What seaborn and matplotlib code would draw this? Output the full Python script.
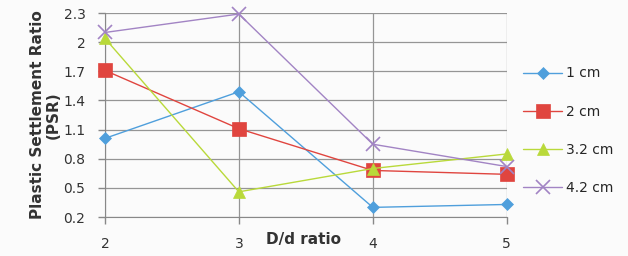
import matplotlib
matplotlib.use("Agg")
import matplotlib.pyplot as plt
import seaborn as sns
import pandas as pd

ratios = [2, 3, 4, 5]
psr_1cm = [1.01, 1.49, 0.30, 0.33]
psr_2cm = [1.71, 1.11, 0.68, 0.64]
psr_32cm = [2.04, 0.46, 0.70, 0.85]
psr_42cm = [2.10, 2.29, 0.95, 0.72]
series_names = ["1 cm", "2 cm", "3.2 cm", "4.2 cm"]
yticks = [0.2, 0.5, 0.8, 1.1, 1.4, 1.7, 2.0, 2.3]
ytick_labels = ["0.2", "0.5", "0.8", "1.1", "1.4", "1.7", "2", "2.3"]

rows = []
for name, vals in zip(series_names, [psr_1cm, psr_2cm, psr_32cm, psr_42cm]):
    for r, v in zip(ratios, vals):
        rows.append({"ratio": r, "psr": v, "size": name})
df = pd.DataFrame(rows)

sns.set_style("white")
plt.rcParams["font.family"] = ["DejaVu Sans"]

pal = {"1 cm": "#4f9fdc", "2 cm": "#e0453f", "3.2 cm": "#b9d93a", "4.2 cm": "#a284c4"}
marks = {"1 cm": "D", "2 cm": "s", "3.2 cm": "^", "4.2 cm": "x"}
msize = {"1 cm": 6.5, "2 cm": 10, "3.2 cm": 8.5, "4.2 cm": 10}

fig = plt.figure(figsize=(6.28, 2.56), dpi=100)
fig.patch.set_facecolor("#fbfbfb")
ax = fig.add_axes([0.167, 0.152, 0.640, 0.797])
ax.set_facecolor("#fbfbfb")

for name in series_names:
    sns.lineplot(data=df[df["size"] == name], x="ratio", y="psr", ax=ax,
                 color=pal[name], marker=marks[name], markersize=msize[name],
                 markeredgecolor=pal[name], markeredgewidth=1.2 if name == "4.2 cm" else 0.5,
                 linewidth=1.0, label=name, clip_on=False, zorder=3)

ax.set_xlim(2, 5)
ax.set_ylim(0.2, 2.3)
ax.set_xticks(ratios)
ax.set_xticklabels([str(r) for r in ratios], fontsize=10, color="#333333")
ax.set_yticks(yticks)
ax.set_yticklabels(ytick_labels, fontsize=10, color="#333333")
ax.grid(True, color="#959595", linewidth=0.9)
ax.tick_params(axis="both", length=5, width=1, color="#888888", direction="out",
               bottom=True, left=True, pad=9)
for s in ["top", "right"]:
    ax.spines[s].set_visible(False)
for s in ["left", "bottom"]:
    ax.spines[s].set_color("#888888")

ax.set_xlabel("")
ax.set_ylabel("Plastic Settlement Ratio\n(PSR)", fontsize=11, fontweight="bold",
              color="#333333", labelpad=2, linespacing=1.05)
fig.text(0.423, 0.035, "D/d ratio", fontsize=11, fontweight="bold", color="#333333",
         ha="left", va="bottom")

leg = ax.legend(loc="upper left", bbox_to_anchor=(1.01, 0.80), frameon=False,
                fontsize=10, handlelength=2.8, labelspacing=1.75, handletextpad=0.3)

fig.savefig("out.png", dpi=100, facecolor=fig.get_facecolor())
